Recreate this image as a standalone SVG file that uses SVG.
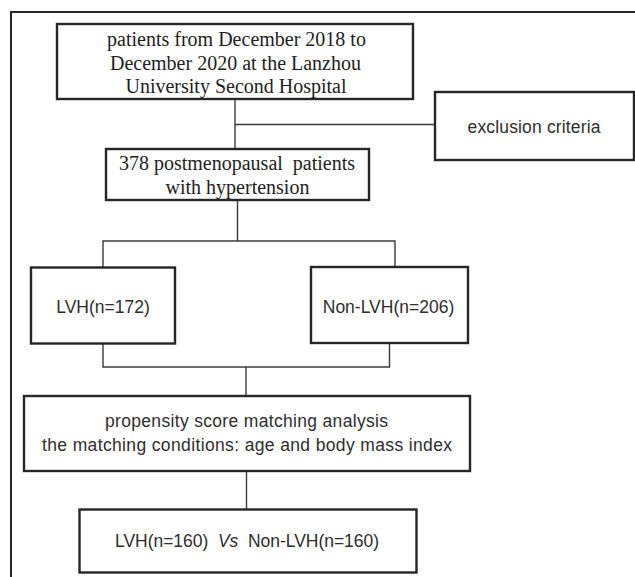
<svg xmlns="http://www.w3.org/2000/svg" width="635" height="577" viewBox="0 0 635 577">
<style>
.box{fill:#fff;stroke:#262626;stroke-width:2.4}
.frame{fill:none;stroke:#262626;stroke-width:2}
.ln{fill:none;stroke:#3a3a3a;stroke-width:1.4}
.serif{font-family:"Liberation Serif","Times New Roman",serif;font-size:20px;fill:#1e1e1e;text-anchor:middle}
.sans{font-family:"Liberation Sans",Arial,sans-serif;font-size:17.5px;fill:#2e2e2e;text-anchor:middle}
</style>
<rect width="635" height="577" fill="#fff"/>
<rect class="frame" x="11" y="12" width="640" height="590"/>
<g id="connectors">
<path class="ln" d="M235 99V149"/>
<path class="ln" d="M235 124.5H435"/>
<path class="ln" d="M237.5 200V241"/>
<path class="ln" d="M103 267V241H395V267"/>
<path class="ln" d="M103 343V367H389.5V343"/>
<path class="ln" d="M246 367V396"/>
<path class="ln" d="M246.5 471V509"/>
</g>
<g id="n1">
<rect class="box" x="57" y="24" width="356" height="75"/>
<text class="serif" x="236.5" y="46">patients from December 2018 to</text>
<text class="serif" x="235.5" y="69.5">December 2020 at the Lanzhou</text>
<text class="serif" x="236" y="93">University Second Hospital</text>
</g>
<g id="n2">
<rect class="box" x="435" y="92" width="199" height="68"/>
<text class="sans" x="534" y="132.5" textLength="133">exclusion criteria</text>
</g>
<g id="n3">
<rect class="box" x="106" y="149" width="263" height="51"/>
<text class="serif" x="237" y="169.5">378 postmenopausal&#160; patients</text>
<text class="serif" x="237.5" y="193.5">with hypertension</text>
</g>
<g id="n4">
<rect class="box" x="31" y="267.5" width="144" height="76"/>
<text class="sans" x="103" y="313">LVH(n=172)</text>
</g>
<g id="n5">
<rect class="box" x="311" y="267" width="157" height="76"/>
<text class="sans" x="388.5" y="312.5">Non-LVH(n=206)</text>
</g>
<g id="n6">
<rect class="box" x="24" y="396" width="446" height="75"/>
<text class="sans" x="246.5" y="426.5" textLength="283">propensity score matching analysis</text>
<text class="sans" x="247" y="451" textLength="410">the matching conditions: age and body mass index</text>
</g>
<g id="n7">
<rect class="box" x="79.5" y="509.5" width="337" height="63"/>
<text class="sans" x="247" y="547" textLength="264">LVH(n=160)&#160; <tspan font-style="italic">Vs</tspan>&#160; Non-LVH(n=160)</text>
</g>
</svg>
